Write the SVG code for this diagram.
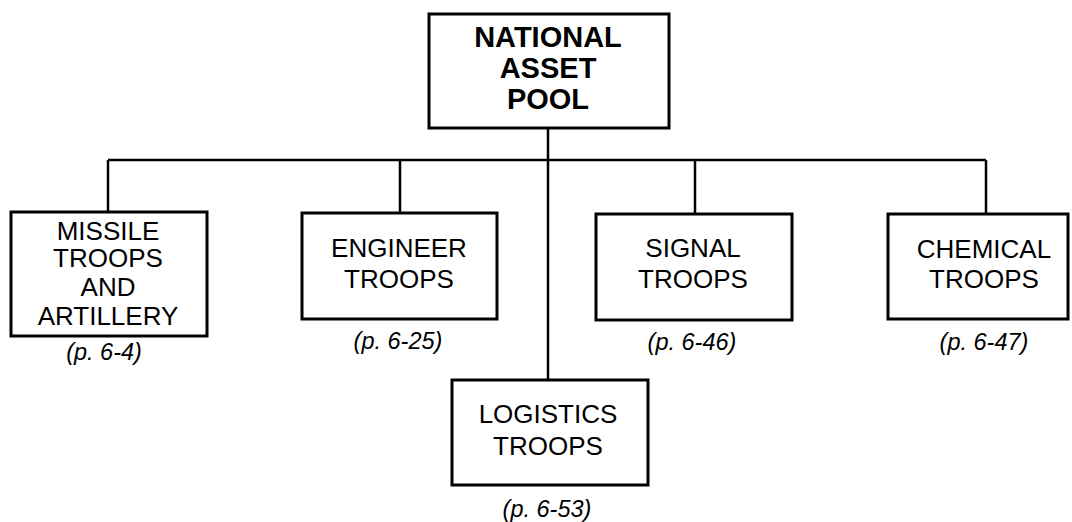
<svg xmlns="http://www.w3.org/2000/svg" width="1072" height="522" viewBox="0 0 1072 522">
<style>
.box{fill:#fff;stroke:#000;stroke-width:3}
.t{font-family:"Liberation Sans",Arial,sans-serif;font-size:26px;fill:#000;text-anchor:middle}
.tb{font-family:"Liberation Sans",Arial,sans-serif;font-size:29px;font-weight:bold;fill:#000;text-anchor:middle}
.ref{font-family:"Liberation Sans",Arial,sans-serif;font-size:23.5px;font-style:italic;fill:#000;text-anchor:middle}
.c{fill:none;stroke:#000;stroke-width:2.5}
</style>
<g id="connectors">
<path class="c" d="M108 160H986"/>
<path class="c" d="M548 128V380"/>
<path class="c" d="M108 160V212"/>
<path class="c" d="M400 160V213"/>
<path class="c" d="M695 160V214"/>
<path class="c" d="M986 160V214"/>
</g>
<g id="national">
<rect class="box" x="429" y="14" width="240" height="114"/>
<text class="tb" x="548" y="47">NATIONAL</text>
<text class="tb" x="548" y="78">ASSET</text>
<text class="tb" x="548" y="109">POOL</text>
</g>
<g id="missile">
<rect class="box" x="11" y="212" width="196" height="124"/>
<text class="t" x="108" y="240">MISSILE</text>
<text class="t" x="108" y="267">TROOPS</text>
<text class="t" x="108" y="296">AND</text>
<text class="t" x="108" y="325">ARTILLERY</text>
<text class="ref" x="104" y="360">(p. 6-4)</text>
</g>
<g id="engineer">
<rect class="box" x="302" y="213" width="195" height="106"/>
<text class="t" x="399" y="257">ENGINEER</text>
<text class="t" x="399" y="288">TROOPS</text>
<text class="ref" x="398" y="349">(p. 6-25)</text>
</g>
<g id="signal">
<rect class="box" x="596" y="214" width="196" height="106"/>
<text class="t" x="693" y="257">SIGNAL</text>
<text class="t" x="693" y="288">TROOPS</text>
<text class="ref" x="692" y="350">(p. 6-46)</text>
</g>
<g id="chemical">
<rect class="box" x="888" y="214" width="180" height="105"/>
<text class="t" x="984" y="258">CHEMICAL</text>
<text class="t" x="984" y="288">TROOPS</text>
<text class="ref" x="984" y="350">(p. 6-47)</text>
</g>
<g id="logistics">
<rect class="box" x="452" y="380" width="196" height="105"/>
<text class="t" x="548" y="423">LOGISTICS</text>
<text class="t" x="548" y="455">TROOPS</text>
<text class="ref" x="547" y="517">(p. 6-53)</text>
</g>
</svg>
